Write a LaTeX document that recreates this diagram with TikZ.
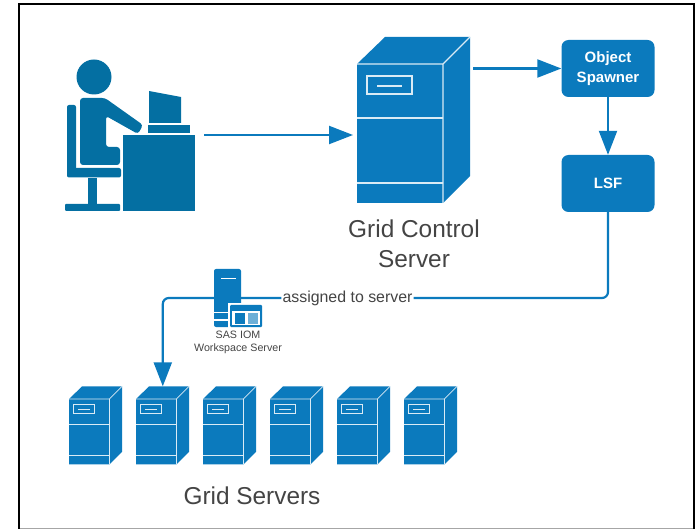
\documentclass[tikz,border=0pt]{standalone}
\usepackage{fontspec}
\setmainfont{Liberation Sans}
\usetikzlibrary{arrows.meta}
\definecolor{srvblue}{HTML}{0B7ABD}
\definecolor{userblue}{HTML}{046FA2}
\definecolor{txtgray}{HTML}{444444}
\tikzset{
    flow/.style={draw=srvblue,line width=2.2pt},
    tip/.style={-{Triangle[length=24pt,width=18pt]}},
    procbox/.style={fill=srvblue,rounded corners=7pt,minimum width=93pt,minimum height=57pt,
        align=center,text=white,font=\bfseries\fontsize{15}{20}\selectfont},
    biglabel/.style={text=txtgray,align=center,font=\fontsize{24.4}{30}\selectfont},
    pics/server/.style={code={
        \fill[srvblue] (0,0)--(28,-27)--(113,-27)--(113,112)--(86,139)--(0,139)--cycle;
        \draw[white!85!srvblue,line width=#1] (0,0)--(86,0)--(86,139) (86,0)--(113,-27);
        \draw[white!85!srvblue,line width=#1] (0,54)--(86,54) (0,119)--(86,119);
        \draw[white!85!srvblue,line width=#1] (10,12) rectangle (55,30);
        \draw[white!85!srvblue,line width=#1] (20,22)--(45,22);
        \coordinate (-top) at (57,-27);
        \coordinate (-side) at (116,4);
        \coordinate (-in) at (-4,71);
    }},
}
\begin{document}
\begin{tikzpicture}[x=1pt,y=-1pt]
        \useasboundingbox (0,0) rectangle (696,529);
        \draw[gray!70,line width=1pt] (18,528)--(694,528);
        \draw[black,line width=2pt] (18.5,529)--(18.5,4)--(694,4)--(694,529);

        \fill[userblue] (94,77) circle (17.5);
        \fill[userblue,rounded corners=2pt] (67,105) rectangle (76,177);
        \fill[userblue,rounded corners=2pt] (67,168) rectangle (121,177.5);
        \fill[userblue] (88,178) rectangle (97,205);
        \fill[userblue,rounded corners=1pt] (65,204) rectangle (120,211);
        \fill[userblue,rounded corners=3pt] (80,165)--(80,98)--(105,98)--(143,125)--(138,134)--(106,116)--(106,147)--(120,147)--(120,165)--cycle;
        \fill[userblue] (149,91)--(181,97)--(181,123)--(149,123)--cycle;
        \fill[userblue] (148,125) rectangle (190,133);
        \node[fill=userblue,minimum width=72pt,minimum height=76pt,inner sep=0pt] (desk) at (159,173) {};

        \pic (ctlsrv) at (357,64) {server=1.4pt};
        \node[biglabel] (ctllabel) at (414,244) {Grid Control\\Server};

        \node[procbox] (spawner) at (608,68.5) {Object\\Spawner};
        \node[procbox] (lsf) at (608,183.5) {LSF};

        \foreach \i in {0,...,5}
            \pic[scale=.47] (grid\i) at ({69+67*\i},399) {server=.8pt};
        \node[biglabel] (gridlabel) at (252,496) {Grid Servers};

        \node[text=txtgray,font=\fontsize{15.9}{16}\selectfont,inner sep=1pt] (assigned) at (347.5,298) {assigned to server};

        \draw[flow,tip] ([xshift=9pt]desk.east |- ctlsrv-in) -- (ctlsrv-in);
        \draw[flow,tip] (spawner.west -| ctlsrv-side) -- (spawner.west);
        \draw[flow,tip] (spawner.south) -- (lsf.north);
        \draw[flow,rounded corners=6pt] (lsf.south) |- (assigned.east);
        \draw[flow,tip,rounded corners=6pt] (assigned.west) -| (grid1-top);

        \fill[srvblue,rounded corners=2pt] (214,269) rectangle (241,327);
        \draw[white,line width=1pt] (221,279)--(236,279);
        \draw[white,line width=1pt] (214,313)--(228,313) (214,320)--(228,320);
        \fill[white] (228,303) rectangle (263,329);
        \fill[srvblue,rounded corners=1pt] (230,305) rectangle (262,327);
        \fill[white] (232,311) rectangle (260,325);
        \fill[srvblue] (235,313) rectangle (245,324);
        \fill[srvblue!60] (248,313) rectangle (258,324);
        \node[text=txtgray,align=center,font=\fontsize{10.7}{13}\selectfont,inner sep=0pt] (wslabel) at (238,342) {SAS IOM\\Workspace Server};
\end{tikzpicture}
\end{document}
